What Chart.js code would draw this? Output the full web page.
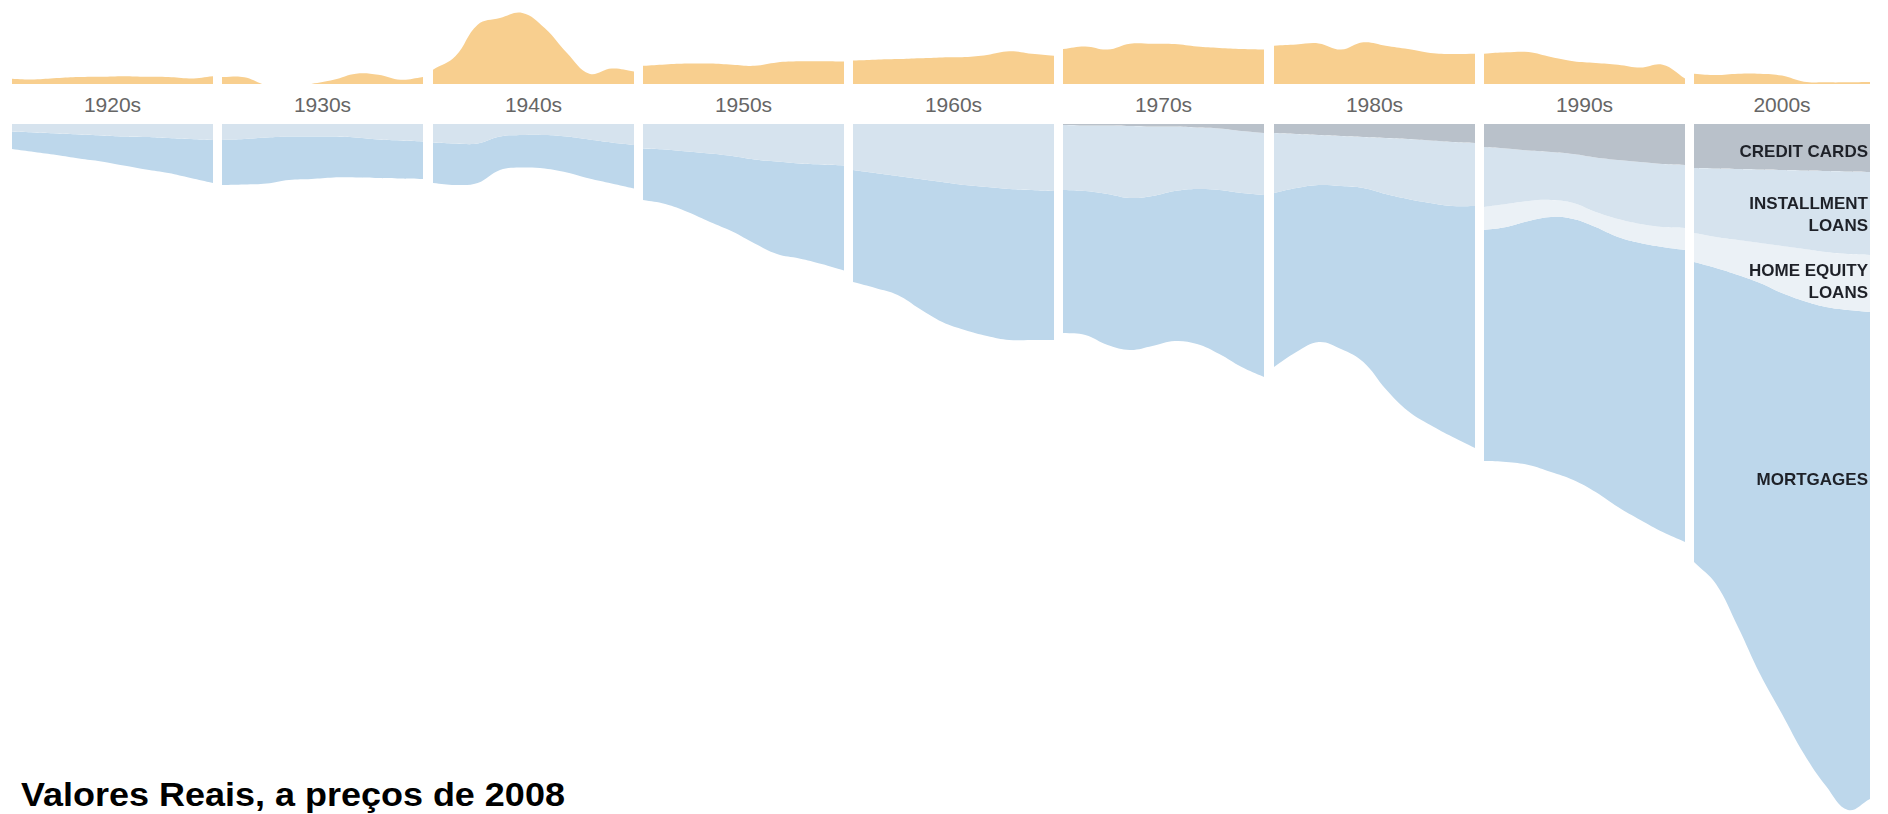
<!DOCTYPE html>
<html>
<head>
<meta charset="utf-8">
<script src="https://cdn.jsdelivr.net/npm/chart.js@4.4.0/dist/chart.umd.min.js"></script>
<style>
	body { margin: 0; width: 1888px; height: 814px; overflow: hidden; position: relative; background: #fff; font-family: "Liberation Sans", Arial, sans-serif; }
	canvas { position: absolute; z-index: 1; }
	.decade { position: absolute; top: 93px; line-height: 24px; font-size: 21px; color: #666; text-align: center; }
	.layer { position: absolute; z-index: 5; right: 20px; text-align: right; font-weight: bold; font-size: 17px; line-height: 22px; color: #1e2128; }
	#title { position: absolute; left: 21px; top: 778px; font-size: 33px; line-height: 33px; font-weight: bold; color: #000; transform: scaleX(1.09); transform-origin: left top; white-space: nowrap; }
</style>
</head>
<body>
<div class="layer" style="top:141px">CREDIT CARDS</div>
<div class="layer" style="top:193px">INSTALLMENT<br>LOANS</div>
<div class="layer" style="top:260px">HOME EQUITY<br>LOANS</div>
<div class="layer" style="top:469px">MORTGAGES</div>
<div id="title">Valores Reais, a preços de 2008</div>
<script>
// Decades shown as separate panels
var decades = ['1920s', '1930s', '1940s', '1950s', '1960s', '1970s', '1980s', '1990s', '2000s'];
var decadeStart = [1920, 1930, 1940, 1950, 1960, 1970, 1980, 1990, 2000];
var decadeYears = [10, 10, 10, 10, 10, 10, 10, 10, 9];

// Savings (top, orange), one value per year 1920-2008
var savings = [
	1.9, 1.6, 2.1, 2.5, 2.6, 2.8, 2.6, 2.5, 2.0, 2.8,
	2.5, 2.4, -0.5, -1.5, 0.0, 1.5, 3.7, 3.3, 1.5, 2.5,
	5.1, 9.9, 21.2, 23.6, 25.4, 20.0, 11.1, 3.7, 5.5, 4.5,
	6.5, 7.0, 7.3, 7.3, 6.9, 6.5, 7.7, 8.1, 8.1, 8.0,
	8.4, 8.7, 8.9, 9.2, 9.5, 9.6, 10.4, 11.7, 10.8, 10.1,
	12.5, 13.4, 12.3, 14.4, 14.4, 14.3, 13.4, 12.9, 12.5, 12.3,
	13.7, 14.1, 14.5, 12.3, 14.9, 13.7, 12.5, 11.1, 10.7, 10.8,
	10.8, 11.3, 11.4, 9.6, 8.1, 7.5, 6.9, 5.9, 6.9, 2.0,
	3.7, 3.2, 3.7, 3.7, 3.0, 0.8, 0.6, 0.6, 0.7
];

// Household debt (bottom), trillions of 2008 dollars, 1920-2008
var creditCards = [
	0, 0, 0, 0, 0, 0, 0, 0, 0, 0,
	0, 0, 0, 0, 0, 0, 0, 0, 0, 0,
	0, 0, 0, 0, 0, 0, 0, 0, 0, 0,
	0, 0, 0, 0, 0, 0, 0, 0, 0, 0,
	0, 0, 0, 0, 0, 0, 0, 0, 0, 0,
	0.02, 0.03, 0.03, 0.04, 0.05, 0.05, 0.07, 0.09, 0.14, 0.18,
	0.18, 0.20, 0.22, 0.24, 0.26, 0.28, 0.30, 0.33, 0.36, 0.38,
	0.46, 0.49, 0.53, 0.56, 0.60, 0.67, 0.72, 0.76, 0.80, 0.82,
	0.88, 0.89, 0.90, 0.91, 0.92, 0.93, 0.94, 0.95, 0.96
];
var installmentLoans = [
	0.15, 0.17, 0.19, 0.21, 0.23, 0.25, 0.26, 0.28, 0.30, 0.32,
	0.32, 0.30, 0.27, 0.25, 0.25, 0.25, 0.27, 0.31, 0.33, 0.35,
	0.37, 0.39, 0.39, 0.25, 0.22, 0.22, 0.25, 0.31, 0.37, 0.42,
	0.49, 0.51, 0.55, 0.59, 0.64, 0.71, 0.75, 0.79, 0.81, 0.83,
	0.92, 0.98, 1.04, 1.10, 1.16, 1.22, 1.26, 1.30, 1.32, 1.34,
	1.30, 1.31, 1.37, 1.44, 1.39, 1.29, 1.23, 1.23, 1.24, 1.24,
	1.20, 1.08, 1.00, 1.00, 1.02, 1.12, 1.20, 1.25, 1.28, 1.26,
	1.20, 1.11, 1.01, 0.96, 0.98, 1.09, 1.18, 1.24, 1.26, 1.26,
	1.30, 1.37, 1.42, 1.47, 1.52, 1.57, 1.62, 1.65, 1.66
];
var homeEquityLoans = [
	0, 0, 0, 0, 0, 0, 0, 0, 0, 0,
	0, 0, 0, 0, 0, 0, 0, 0, 0, 0,
	0, 0, 0, 0, 0, 0, 0, 0, 0, 0,
	0, 0, 0, 0, 0, 0, 0, 0, 0, 0,
	0, 0, 0, 0, 0, 0, 0, 0, 0, 0,
	0, 0, 0, 0, 0, 0, 0, 0, 0, 0,
	0, 0, 0, 0, 0, 0, 0, 0, 0, 0,
	0.46, 0.46, 0.40, 0.34, 0.32, 0.30, 0.36, 0.38, 0.40, 0.44,
	0.58, 0.62, 0.70, 0.80, 0.94, 1.04, 1.10, 1.12, 1.14
];
var mortgages = [
	0.35, 0.39, 0.43, 0.48, 0.52, 0.58, 0.65, 0.70, 0.78, 0.86,
	0.90, 0.91, 0.92, 0.87, 0.85, 0.82, 0.80, 0.77, 0.76, 0.75,
	0.81, 0.83, 0.79, 0.67, 0.65, 0.67, 0.72, 0.78, 0.82, 0.87,
	1.03, 1.09, 1.21, 1.37, 1.51, 1.68, 1.85, 1.90, 1.99, 2.10,
	2.24, 2.30, 2.38, 2.60, 2.80, 2.90, 2.98, 3.02, 3.00, 2.98,
	2.86, 2.88, 3.02, 3.04, 3.00, 3.00, 3.10, 3.28, 3.48, 3.64,
	3.48, 3.28, 3.14, 3.26, 3.48, 3.90, 4.24, 4.44, 4.62, 4.84,
	4.62, 4.70, 4.88, 5.10, 5.22, 5.30, 5.40, 5.54, 5.70, 5.84,
	6.00, 6.32, 7.04, 7.82, 8.42, 9.06, 9.58, 10.00, 9.74
];

var colors = {
	savings: '#f8cf8f',
	creditCards: '#b9c1ca',
	installment: '#d6e3ee',
	homeEquity: '#ebf1f6',
	mortgages: '#bdd7eb'
};

function makeCanvas(left, top, width, height) {
	var c = document.createElement('canvas');
	c.width = width;
	c.height = height;
	c.style.left = left + 'px';
	c.style.top = top + 'px';
	document.body.appendChild(c);
	return c;
}

function area(label, data, color, fill) {
	return {
		label: label,
		data: data,
		backgroundColor: color,
		borderWidth: 0,
		pointRadius: 0,
		tension: 0.4,
		fill: fill
	};
}

var baseOptions = {
	responsive: false,
	animation: false,
	events: [],
	layout: { padding: 0 },
	plugins: { legend: { display: false }, tooltip: { enabled: false } }
};

decades.forEach(function(name, i) {
	var start = decadeStart[i] - 1920;
	var end = start + decadeYears[i];
	var labels = [];
	for (var k = 0; k < decadeYears[i]; k++) labels.push(decadeStart[i] + k);

	var left = Math.round(12 + 210.25 * i);
	var width = i === 8 ? 176 : 201;

	// Savings panel
	new Chart(makeCanvas(left, 0, width, 84), {
		type: 'line',
		data: {
			labels: labels,
			datasets: [area('Poupança', savings.slice(start, end), colors.savings, 'origin')]
		},
		options: Object.assign({}, baseOptions, {
			scales: {
				x: { display: false },
				y: { display: false, min: 0, max: 30 }
			}
		})
	});

	// Decade label
	var lbl = document.createElement('div');
	lbl.className = 'decade';
	lbl.style.left = left + 'px';
	lbl.style.width = width + 'px';
	lbl.textContent = name;
	document.body.appendChild(lbl);

	// Debt panel, hanging down from the top
	new Chart(makeCanvas(left, 124, width, 690), {
		type: 'line',
		data: {
			labels: labels,
			datasets: [
				area('Credit cards', creditCards.slice(start, end), colors.creditCards, 'origin'),
				area('Installment loans', installmentLoans.slice(start, end), colors.installment, '-1'),
				area('Home equity loans', homeEquityLoans.slice(start, end), colors.homeEquity, '-1'),
				area('Mortgages', mortgages.slice(start, end), colors.mortgages, '-1')
			]
		},
		options: Object.assign({}, baseOptions, {
			scales: {
				x: { display: false },
				y: { display: false, stacked: true, reverse: true, min: 0, max: 13.8 }
			}
		})
	});
});
</script>
</body>
</html>
